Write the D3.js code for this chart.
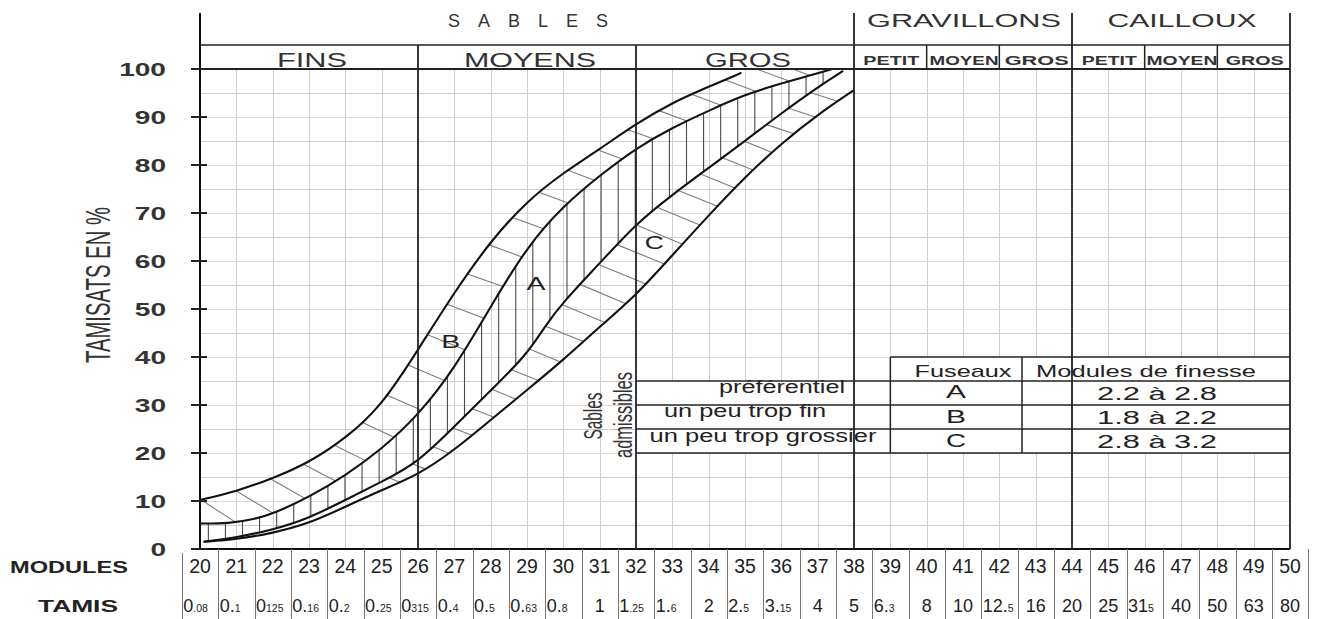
<!DOCTYPE html>
<html><head><meta charset="utf-8">
<script src="https://cdn.jsdelivr.net/npm/d3@7"></script>
<style>
body{margin:0;background:#fff}
svg{display:block}
text{font-family:"Liberation Sans",Arial,sans-serif;fill:#222}
</style>
</head><body>
<svg id="c" width="1318" height="619"></svg>
<script>
// ---------------- DATA ----------------
const modules = d3.range(20, 51);                 // modules 20..50
const tamis = [["0",".08"],["0.","1"],["0","125"],["0.","16"],["0.","2"],["0.","25"],["0","315"],
  ["0.","4"],["0.","5"],["0.","63"],["0.","8"],["1",""],["1",".25"],["1.","6"],["2",""],["2.","5"],
  ["3.","15"],["4",""],["5",""],["6.","3"],["8",""],["10",""],["12.","5"],["16",""],["20",""],
  ["25",""],["31","5"],["40",""],["50",""],["63",""],["80",""]];
const yTicks = [0,10,20,30,40,50,60,70,80,90,100];
const groups = [["SABLES",20,38],["GRAVILLONS",38,44],["CAILLOUX",44,50]];
const sandClasses = [["FINS",20,26],["MOYENS",26,32],["GROS",32,38]];
const subClasses = [["PETIT",38,40],["MOYEN",40,42],["GROS",42,44],["PETIT",44,46],["MOYEN",46,48],["GROS",48,50]];
// boundary curves [module, % passing]
const curveB_top = [[20,10.2],[21,12],[22,14.7],[23,18],[24,23],[25,29.8],[26,41.5],[27,53.5],[28,64.2],
  [29,72.5],[30,78.4],[31,83.3],[32,88.6],[33,93],[34,96.3],[34.9,99.2]];
const curveAB = [[20,5.3],[20.8,5.3],[21.5,6.2],[22,7.3],[23,10.8],[24,15.3],[25,20.8],[26,27.8],[27,37.5],
  [28,50.5],[29,63],[30,71.5],[31,77.8],[32,83.5],[33,87.8],[34,91.3],[35,94.7],[36,97],[37,99.1],[37.4,100]];
const curveAC = [[20.1,1.5],[21,2.4],[22,4],[23,6.4],[24,10.2],[25,14],[26,18],[27,25.5],[28,33],[29,40.5],
  [29.5,46.5],[30,51.5],[31,59.5],[32,67.8],[33,73.8],[34,79.4],[35,85],[36,90.8],[37,96.2],[37.7,99.6]];
const curveC_bot = [[20.1,1.5],[21,2],[22,3.3],[23,5.3],[24,8.8],[25,12.3],[26,15.4],[27,20.6],[28,26.9],
  [29,33.1],[30,39.4],[31,46.3],[32,52.8],[33,61.2],[34,69.5],[35,77.5],[36,84.5],[37,90.5],[38,95.6]];
const zoneLabels = [["A",29.25,55.5],["B",26.9,43.3],["C",32.5,64]];
const tableHead = ["Fuseaux","Modules de finesse"];
const tableRows = [["préférentiel","A","2.2 à 2.8"],["un peu trop fin","B","1.8 à 2.2"],["un peu trop grossier","C","2.8 à 3.2"]];
const sidebar = ["Sables","admissibles"];
const yTitle = "TAMISATS EN %";
const rowTitles = ["MODULES","TAMIS"];

// ---------------- SCALES ----------------
const svg = d3.select('#c');
const x = d3.scaleLinear().domain([20,50]).range([200,1290]);
const y = d3.scaleLinear().domain([0,100]).range([549,69]);
const px = v => Math.round(v) + 0.5;

function txt(g, s, cx, base, size, width, o = {}) {
  const t = g.append('text').attr('x', cx - width/2).attr('y', base)
    .attr('font-size', size).attr('textLength', width)
    .attr('lengthAdjust', o.adjust || 'spacingAndGlyphs').text(s);
  if (o.weight) t.attr('font-weight', o.weight);
  if (o.fill) t.style('fill', o.fill);
  return t;
}
function line(g, x1, y1, x2, y2, stroke, w) {
  return g.append('line').attr('x1', x1).attr('y1', y1).attr('x2', x2).attr('y2', y2)
    .attr('stroke', stroke).attr('stroke-width', w);
}

// ---------------- GRID ----------------
const grid = svg.append('g');
modules.filter(m => m > 20 && m < 50 && ![26,32,38,44].includes(m)).forEach(m =>
  line(grid, px(x(m)), y(100), px(x(m)), y(0), '#cfcfcf', 1));
d3.range(5, 100, 5).forEach(v =>
  line(grid, x(20), px(y(v)), x(50), px(y(v)), v % 10 ? '#cdcdcd' : '#dadada', 1));

// table backgrounds (hide grid)
svg.append('rect').attr('x', x(39)).attr('y', y(40)).attr('width', x(50) - x(39)).attr('height', y(35) - y(40)).attr('fill', '#fff');
svg.append('rect').attr('x', x(32)).attr('y', y(35)).attr('width', x(50) - x(32)).attr('height', y(20) - y(35)).attr('fill', '#fff');

// ---------------- CURVES ----------------
const lineGen = d3.line().x(d => x(d[0])).y(d => y(d[1])).curve(d3.curveBasis);
const curveG = svg.append('g');
function sampler(data) {
  const p = curveG.append('path').attr('d', lineGen(data)).attr('fill', 'none')
    .attr('stroke', '#111').attr('stroke-width', 2.1);
  const node = p.node(), L = node.getTotalLength(), pts = [];
  for (let s = 0; s <= L; s += 0.5) { const q = node.getPointAtLength(s); pts.push([q.x, q.y]); }
  const q = node.getPointAtLength(L); pts.push([q.x, q.y]);
  pts.sort((a, b) => a[0] - b[0]);
  const xs = pts.map(d => d[0]);
  const f = xq => {
    const i = d3.bisectLeft(xs, xq);
    if (i <= 0) return pts[0][1];
    if (i >= pts.length) return pts[pts.length - 1][1];
    const a = pts[i - 1], b = pts[i], t = (xq - a[0]) / ((b[0] - a[0]) || 1);
    return a[1] + t * (b[1] - a[1]);
  };
  f.x0 = xs[0]; f.x1 = xs[xs.length - 1];
  return f;
}
const c1 = sampler(curveB_top), c2 = sampler(curveAB), c3 = sampler(curveAC), c4 = sampler(curveC_bot);

// ---------------- HATCHING ----------------
const hatch = svg.insert('g', () => curveG.node());
function diag(upper, lower, xs0, xs1, S, kf, color) {
  const starts = [];
  let acc = S, lx = xs0, ly = upper(xs0);
  for (let xx = xs0; xx <= xs1; xx += 0.5) {
    const yy = upper(xx);
    acc += Math.hypot(xx - lx, yy - ly); lx = xx; ly = yy;
    if (acc >= S) { acc = 0; starts.push([xx, yy]); }
  }
  starts.forEach(([sx, sy]) => {
    const k = kf(sx);
    for (let xe = sx + 0.5; xe <= lower.x1; xe += 0.5) {
      const ly2 = lower(xe), yl = sy + k * (xe - sx);
      if (ly2 <= yl) {
        if (ly2 - sy > 3) line(hatch, sx, sy, xe, ly2, color, 1.1);
        break;
      }
    }
  });
}
const upperB = xx => xx <= c1.x1 ? c1(xx) : y(100);
const upperC = xx => xx <= c3.x1 ? c3(xx) : y(100);
diag(upperB, c2, x(20) + 1, c2.x1 - 8, 36, xx => xx < 450 ? 0.65 - 0.27 * (xx - 200) / 250 : 0.38, '#7c7c7c');
diag(upperC, c4, x(25.2), c4.x1 - 4, 27, xx => xx > 760 ? 0.33 : 0.42, '#7c7c7c');
for (let m = 20.23; m < 37.35; m += 0.47) {
  const xx = x(m);
  if (xx < c3.x0) continue;
  line(hatch, xx, c2(xx), xx, c3(xx), '#4a4a4a', 1.1);
}

// ---------------- FRAME ----------------
const fr = svg.append('g');
line(fr, x(20), 45, x(50), 45, '#222', 1.5);
line(fr, x(20), y(100), x(50), y(100), '#222', 1.8);
line(fr, x(20), y(0), x(50), y(0), '#111', 2);
line(fr, x(20), 13, x(20), y(0), '#111', 2);
[38, 44, 50].forEach(m => line(fr, x(m), 13, x(m), y(0), '#222', 1.8));
[26, 32].forEach(m => line(fr, x(m), 45, x(m), y(0), '#222', 1.8));
[40, 42, 46, 48].forEach(m => line(fr, x(m), 45, x(m), y(100), '#222', 1.5));
// y ticks & labels
yTicks.forEach(v => {
  line(fr, 191, y(v), 207, y(v), '#222', 2);
  const s = String(v), w = 15.6 * s.length;
  txt(fr, s, 166 - w / 2, y(v) + 6.5, 17.5, w, {weight: 'bold', fill: '#333'});
});
// y title
fr.append('text').attr('transform', 'translate(110,285) scale(1.6,1) rotate(-90)')
  .attr('text-anchor', 'middle').attr('font-size', 22).attr('textLength', 156)
  .attr('lengthAdjust', 'spacingAndGlyphs').style('fill', '#333').text(yTitle);

// header texts
txt(fr, groups[0][0], x((groups[0][1] + groups[0][2]) / 2) + 1, 27, 18, 160, {adjust: 'spacing', fill: '#333'});
const grpW = [0, 194, 149];
groups.slice(1).forEach((g, i) => txt(fr, g[0], x((g[1] + g[2]) / 2) + 1, 27, 19, grpW[i + 1], {fill: '#333'}));
const clsW = [70, 132, 86];
sandClasses.forEach((g, i) => txt(fr, g[0], x((g[1] + g[2]) / 2) + 3, 67, 19.5, clsW[i], {fill: '#333'}));
const subW = [56, 69, 64, 55, 71, 58];
subClasses.forEach((g, i) => txt(fr, g[0], x((g[1] + g[2]) / 2) + 1, 65, 13.5, subW[i], {weight: 'bold', fill: '#333'}));

// zone labels
zoneLabels.forEach(d => txt(fr, d[0], x(d[1]), y(d[2]) + 7, 19, 19, {fill: '#222'}));

// ---------------- FUSEAUX TABLE ----------------
const tb = svg.append('g');
line(tb, x(39), y(40), x(50), y(40), '#222', 1.5);
[35, 30, 25, 20].forEach(v => line(tb, x(32), y(v), x(50), y(v), '#222', 1.5));
line(tb, x(39), y(40), x(39), y(20), '#222', 1.5);
line(tb, 1022, y(40), 1022, y(20), '#222', 1.5);
txt(tb, tableHead[0], 963, 377, 17, 97);
txt(tb, tableHead[1], 1146, 377, 17, 220);
const c1c = [782, 745, 763], c1w = [126, 162, 227], b1 = [393, 417, 442];
tableRows.forEach((r, i) => {
  txt(tb, r[0], c1c[i], b1[i], 17.5, c1w[i]);
  txt(tb, r[1], 956, 398 + 24 * i + (i ? 1 : 0), 18, 20);
  txt(tb, r[2], 1157, 400 + 24 * i, 17.5, 120);
});
tb.append('text').attr('transform', 'translate(602,416) scale(1.6,1) rotate(-90)')
  .attr('text-anchor', 'middle').attr('font-size', 16).attr('textLength', 47)
  .attr('lengthAdjust', 'spacingAndGlyphs').style('fill', '#333').text(sidebar[0]);
tb.append('text').attr('transform', 'translate(632,415) scale(1.6,1) rotate(-90)')
  .attr('text-anchor', 'middle').attr('font-size', 16).attr('textLength', 86)
  .attr('lengthAdjust', 'spacingAndGlyphs').style('fill', '#333').text(sidebar[1]);

// ---------------- BOTTOM TABLE ----------------
const bt = svg.append('g');
modules.concat([51]).forEach(m => line(bt, px(x(m - 0.5)), m === 20 ? 553 : 549, px(x(m - 0.5)), 619, '#777', 1));
modules.forEach(m => bt.append('text').attr('x', x(m)).attr('y', 573).attr('text-anchor', 'middle')
  .attr('font-size', 19.5).text(String(m)));
tamis.forEach((t, i) => {
  const m = modules[i];
  if (t[1] === '') {
    bt.append('text').attr('x', x(m)).attr('y', 612).attr('text-anchor', 'middle').attr('font-size', 18).text(t[0]);
  } else {
    const te = bt.append('text').attr('x', x(m - 0.5) + 1.5).attr('y', 612);
    te.append('tspan').attr('font-size', 18).text(t[0]);
    te.append('tspan').attr('font-size', 10.5).text(t[1]);
  }
});
txt(bt, rowTitles[0], 69, 573, 17, 118, {weight: 'bold'});
txt(bt, rowTitles[1], 78, 612, 17, 80, {weight: 'bold'});
</script>
</body></html>
